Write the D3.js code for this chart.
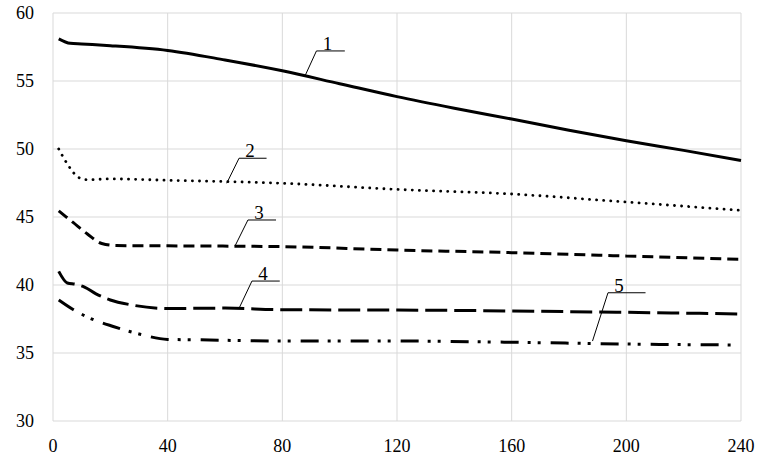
<!DOCTYPE html>
<html>
<head>
    <meta charset="utf-8">
    <script src="https://cdnjs.cloudflare.com/ajax/libs/d3/7.8.5/d3.min.js"></script>
    <style>
        body { margin: 0; background: #fff; }
    </style>
</head>
<body>
    <div id="graph"></div>

    <script>

        // x ticks, y ticks
        var xTicks = [0, 40, 80, 120, 160, 200, 240];
        var yTicks = [30, 35, 40, 45, 50, 55, 60];

        // curves: [x, value]
        var curve1 = [[2, 58.1], [6, 57.77], [10, 57.72], [20, 57.6], [40, 57.25], [60, 56.55], [80, 55.75],
            [100, 54.8], [120, 53.85], [140, 53.0], [160, 52.2], [180, 51.38], [200, 50.6], [220, 49.9], [240, 49.15]];
        var curve2 = [[2, 50.0], [5, 48.9], [9, 47.9], [12, 47.74], [20, 47.8], [40, 47.7], [80, 47.48],
            [120, 47.03], [160, 46.69], [200, 46.1], [240, 45.49]];
        var curve3 = [[2, 45.45], [7, 44.6], [12, 43.75], [17, 43.05], [22, 42.9], [40, 42.88], [80, 42.82],
            [120, 42.57], [160, 42.38], [200, 42.13], [240, 41.89]];
        var curve4 = [[2, 41.0], [5, 40.15], [8, 40.05], [11, 39.85], [15, 39.35], [20, 38.9], [27, 38.55], [40, 38.27],
            [60, 38.3], [80, 38.18], [120, 38.16], [160, 38.09], [200, 37.99], [240, 37.87]];
        var curve5 = [[2, 38.9], [7, 38.2], [13, 37.55], [21, 36.95], [30, 36.4], [40, 36.0], [50, 35.97],
            [80, 35.88], [120, 35.88], [160, 35.79], [200, 35.66], [237, 35.59]];

        // callout labels (data units): start on curve, elbow, end of shelf
        var labelNames = ["1", "2", "3", "4", "5"];
        var leaderX0 = [87.9, 60.6, 63.5, 65.0, 188.2];
        var leaderY0 = [55.37, 47.48, 42.87, 38.33, 35.88];
        var elbowX = [91.9, 64.9, 68.0, 69.4, 193.6];
        var elbowY = [57.21, 49.32, 44.78, 40.29, 39.43];
        var shelfEndX = [101.8, 74.5, 77.8, 79.1, 206.7];

        var curves = [curve1, curve2, curve3, curve4, curve5];
        var dashes = ["none", "0.1,7", "11,6", "22,7", "18,9,3,7,3,10"];
        var widths = [3, 2.8, 3, 3, 3];
        var caps = ["butt", "round", "butt", "butt", "butt"];

        var serif = "'Liberation Serif', 'DejaVu Serif', 'Times New Roman', Times, serif";

        var W = 764, H = 463;
        var margin = { top: 13, right: 23, bottom: 42, left: 53 };

        var svg = d3.select("#graph")
            .append("svg")
            .attr("width", W)
            .attr("height", H);

        var x = d3.scaleLinear().domain([0, 240]).range([margin.left, W - margin.right]);
        var y = d3.scaleLinear().domain([30, 60]).range([H - margin.bottom, margin.top]);

        // grid
        svg.selectAll(".vgrid")
            .data(xTicks)
            .enter()
            .append("line")
            .attr("x1", function (d) { return x(d) })
            .attr("x2", function (d) { return x(d) })
            .attr("y1", y(30))
            .attr("y2", y(60))
            .attr("stroke", "#d9d9d9")
            .attr("stroke-width", 1)

        svg.selectAll(".hgrid")
            .data(yTicks)
            .enter()
            .append("line")
            .attr("x1", x(0))
            .attr("x2", x(240))
            .attr("y1", function (d) { return y(d) })
            .attr("y2", function (d) { return y(d) })
            .attr("stroke", "#d9d9d9")
            .attr("stroke-width", 1)

        // tick labels
        svg.selectAll(".xlab")
            .data(xTicks)
            .enter()
            .append("text")
            .attr("x", function (d) { return x(d) })
            .attr("y", 452)
            .attr("text-anchor", "middle")
            .style("font-family", serif)
            .style("font-size", "18px")
            .attr("fill", "#000")
            .text(function (d) { return d })

        svg.selectAll(".ylab")
            .data(yTicks)
            .enter()
            .append("text")
            .attr("x", 34)
            .attr("y", function (d) { return y(d) + 6 })
            .attr("text-anchor", "end")
            .style("font-family", serif)
            .style("font-size", "18px")
            .attr("fill", "#000")
            .text(function (d) { return d })

        // curves
        var line = d3.line()
            .x(function (d) { return x(d[0]) })
            .y(function (d) { return y(d[1]) })
            .curve(d3.curveMonotoneX);

        svg.selectAll(".curve")
            .data(curves)
            .enter()
            .append("path")
            .attr("d", line)
            .attr("fill", "none")
            .attr("stroke", "#000")
            .attr("stroke-width", function (d, i) { return widths[i] })
            .attr("stroke-dasharray", function (d, i) { return dashes[i] })
            .attr("stroke-linecap", function (d, i) { return caps[i] })

        // callouts
        labelNames.forEach(function (name, i) {
            svg.append("polyline")
                .attr("points", [
                    [x(leaderX0[i]), y(leaderY0[i])],
                    [x(elbowX[i]), y(elbowY[i])],
                    [x(shelfEndX[i]), y(elbowY[i])]
                ].map(function (p) { return p.join(",") }).join(" "))
                .attr("fill", "none")
                .attr("stroke", "#000")
                .attr("stroke-width", 1)

            svg.append("text")
                .attr("x", x(elbowX[i]) + 11)
                .attr("y", y(elbowY[i]) - 1)
                .attr("text-anchor", "middle")
                .style("font-family", serif)
                .style("font-size", "19px")
                .attr("fill", "#000")
                .text(name)
        });

    </script>
</body>
</html>
